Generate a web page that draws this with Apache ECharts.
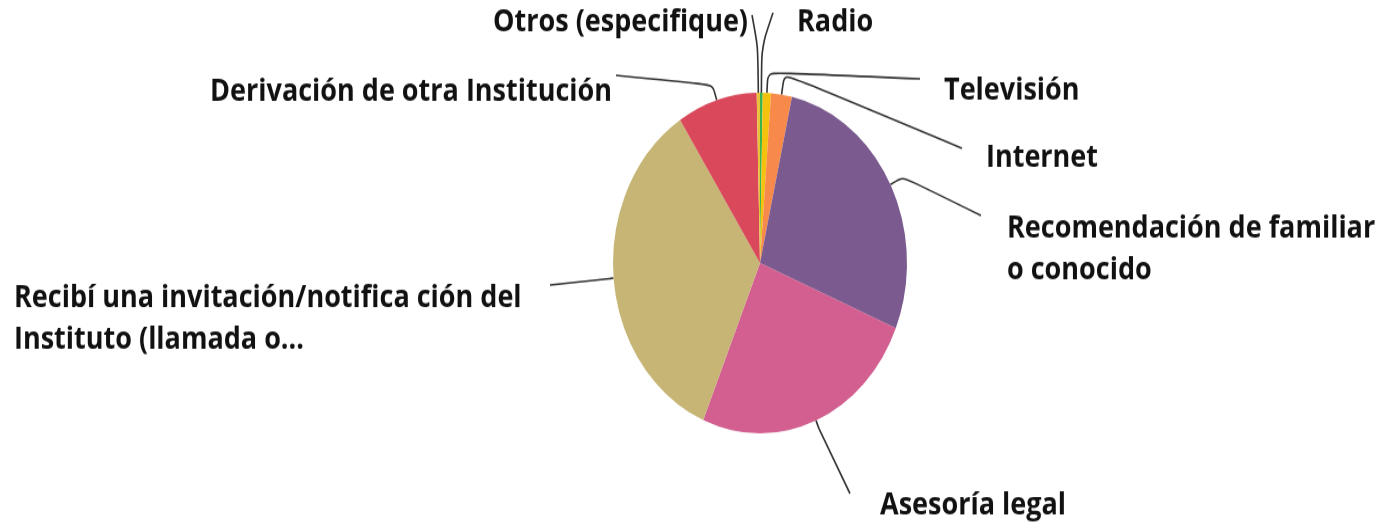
<!DOCTYPE html>
<html>
<head>
<meta charset="utf-8">
<script src="https://cdn.jsdelivr.net/npm/echarts@6/dist/echarts.min.js"></script>
<style>
    html, body { margin: 0; padding: 0; background: #fff; overflow: hidden; }
    /* la imagen original está estirada en vertical; el lienzo es más alto para no recortar etiquetas */
    #chart { width: 1394px; height: 560px; transform: scaleY(1.1586); transform-origin: 0 0; }
</style>
</head>
<body>
<div id="chart"></div>
<script>
// categorías en orden horario desde arriba
var categorias = [
    'Radio',
    'Televisión',
    'Internet',
    'Recomendación de familiar\no conocido',
    'Asesoría legal',
    'Recibí una invitación/notifica ción del\nInstituto (llamada o...',
    'Derivación de otra Institución',
    'Otros (especifique)'
];
// porcentaje aproximado de respuestas
var valores = [0.3, 0.9, 2.3, 27.8, 25.1, 34.6, 8.8, 0.36];
var colores = ['#3cb44e', '#f4c20d', '#f7894a', '#7b5b8f', '#d25f8f', '#c6b574', '#d9495b', '#e9c23c'];

// etiqueta: x, y, alineación, codo de la línea, fin de la línea (dx, dy desde la etiqueta)
var posEtiquetas = [
    [797, 19, 'left', 40, [-24, -8]],
    [944, 78, 'left', 18, [-24, -10]],
    [986, 136, 'left', 18, [-24, -8]],
    [1007, 215, 'left', 14, [-26, -29]],
    [880, 436, 'left', 8, [-30, -10]],
    [14, 275, 'left', 4, [536, -29]],
    [612, 79, 'right', 14, [4, -14]],
    [748, 19, 'right', 40, [4, -6]]
];

function initChart()
{
    var myChart = echarts.init(document.getElementById('chart'));
    var datos = [];
    for (var i = 0; i < categorias.length; i++) {
        datos.push({ name: categorias[i], value: valores[i], itemStyle: { color: colores[i] } });
    }
    var cx = 760, cy = 227;
    var options = {
        backgroundColor: '#fff',
        animation: false,
        series: [{
            type: 'pie',
            center: [cx, cy],
            radius: 147,
            startAngle: 90,
            clockwise: true,
            avoidLabelOverlap: false,
            minShowLabelAngle: 0,
            data: datos,
            label: {
                show: true,
                position: 'outer',
                formatter: '{b}',
                color: '#111',
                fontFamily: 'Open Sans',
                fontWeight: 700,
                fontSize: 27,
                lineHeight: 36,
                overflow: 'none'
            },
            labelLine: {
                show: true,
                length: 6,
                length2: 6,
                smooth: 0.25,
                lineStyle: { color: '#333', width: 1.6 }
            },
            labelLayout: function (params) {
                var p = posEtiquetas[params.dataIndex];
                var a = params.labelLinePoints ? params.labelLinePoints[0] : [cx, cy];
                var dx = a[0] - cx, dy = a[1] - cy;
                var d = Math.sqrt(dx * dx + dy * dy) || 1;
                var codo = [a[0] + dx / d * p[3], a[1] + dy / d * p[3]];
                var fin = [p[0] + p[4][0], p[1] + p[4][1]];
                return {
                    x: p[0], y: p[1], align: p[2], verticalAlign: 'middle',
                    labelLinePoints: [a, codo, fin]
                };
            }
        }]
    };
    myChart.setOption(options, true);
}

initChart();
</script>
</body>
</html>
